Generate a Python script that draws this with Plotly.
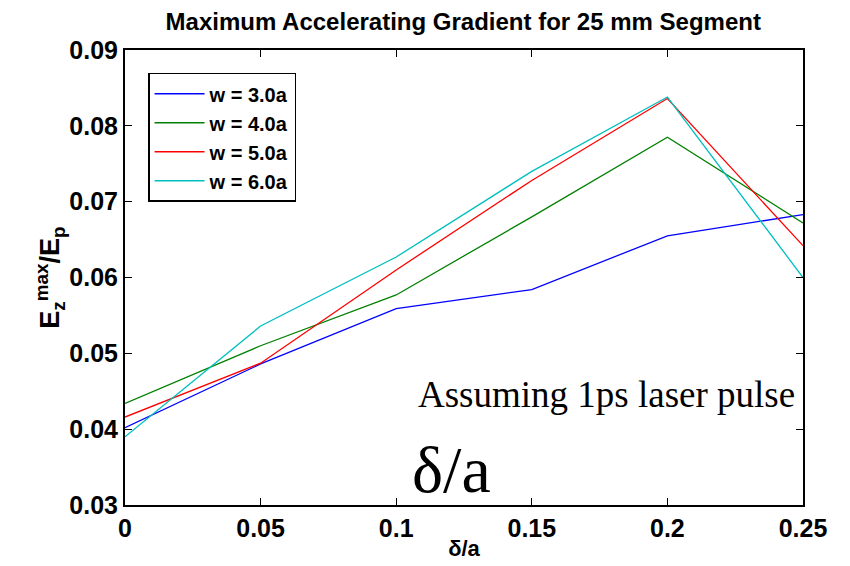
import plotly.graph_objects as go

x_vals = [0, 0.05, 0.1, 0.15, 0.2, 0.25]
w30 = [0.0402, 0.0486, 0.0559, 0.0584, 0.0655, 0.0683]
w40 = [0.0434, 0.0510, 0.0577, 0.0680, 0.0785, 0.0672]
w50 = [0.0416, 0.0487, 0.0610, 0.0728, 0.0836, 0.0642]
w60 = [0.0390, 0.0536, 0.0627, 0.0740, 0.0838, 0.0600]
names = ["w = 3.0a", "w = 4.0a", "w = 5.0a", "w = 6.0a"]
colors = ["#0000ff", "#008000", "#ff0000", "#00bfbf"]
x_ticks = [0, 0.05, 0.1, 0.15, 0.2, 0.25]
x_ticklabels = ["0", "0.05", "0.1", "0.15", "0.2", "0.25"]
y_ticks = [0.03, 0.04, 0.05, 0.06, 0.07, 0.08, 0.09]
y_ticklabels = ["0.03", "0.04", "0.05", "0.06", "0.07", "0.08", "0.09"]

FONT = "Liberation Sans, Arial, sans-serif"
SERIF = "Liberation Serif, Times New Roman, serif"

fig = go.Figure()
for ys, nm, c in zip([w30, w40, w50, w60], names, colors):
    fig.add_trace(go.Scatter(x=x_vals, y=ys, mode="lines", name="<b>%s</b>" % nm,
                             line=dict(color=c, width=1.3)))

axis_common = dict(showline=True, linecolor="black", linewidth=2, mirror="ticks",
                   ticks="inside", ticklen=7, tickcolor="black", showgrid=False,
                   zeroline=False, automargin=False,
                   tickfont=dict(family=FONT, size=25, color="black"))

fig.update_layout(
    width=850, height=566,
    paper_bgcolor="white", plot_bgcolor="white",
    margin=dict(l=125, r=47, t=50, b=61),
    title=dict(text="<b>Maximum Accelerating Gradient for 25 mm Segment</b>",
               x=0.545, xanchor="center", y=0.962, yanchor="middle",
               font=dict(family=FONT, size=24, color="black")),
    xaxis=dict(range=[0, 0.25], tickvals=x_ticks,
               ticktext=["<b>%s</b>" % t for t in x_ticklabels],
               title=dict(text="<b>δ/a</b>", standoff=0,
                          font=dict(family=FONT, size=22, color="black")),
               **axis_common),
    yaxis=dict(range=[0.03, 0.09], tickvals=y_ticks,
               ticktext=["<b>%s</b>" % t for t in y_ticklabels],
               title=dict(text="<b>E<sub>z</sub><sup>max</sup>/E<sub>p</sub></b>", standoff=2,
                          font=dict(family=FONT, size=27, color="black")),
               **axis_common),
    legend=dict(x=0.034, y=0.95, xanchor="left", yanchor="top",
                bgcolor="white", bordercolor="black", borderwidth=1.5,
                font=dict(family=FONT, size=20, color="black"),
                itemwidth=50, tracegroupgap=0),
    showlegend=True,
)

fig.add_annotation(x=0.991, y=0.242, xref="paper", yref="paper", xanchor="right",
                   yanchor="middle", showarrow=False,
                   text="Assuming 1ps laser pulse",
                   font=dict(family=SERIF, size=37, color="black"))
fig.add_annotation(x=0.482, y=0.077, xref="paper", yref="paper", xanchor="center",
                   yanchor="middle", showarrow=False,
                   text="δ/a",
                   font=dict(family=SERIF, size=66, color="black"))

fig.write_html("out.html")
